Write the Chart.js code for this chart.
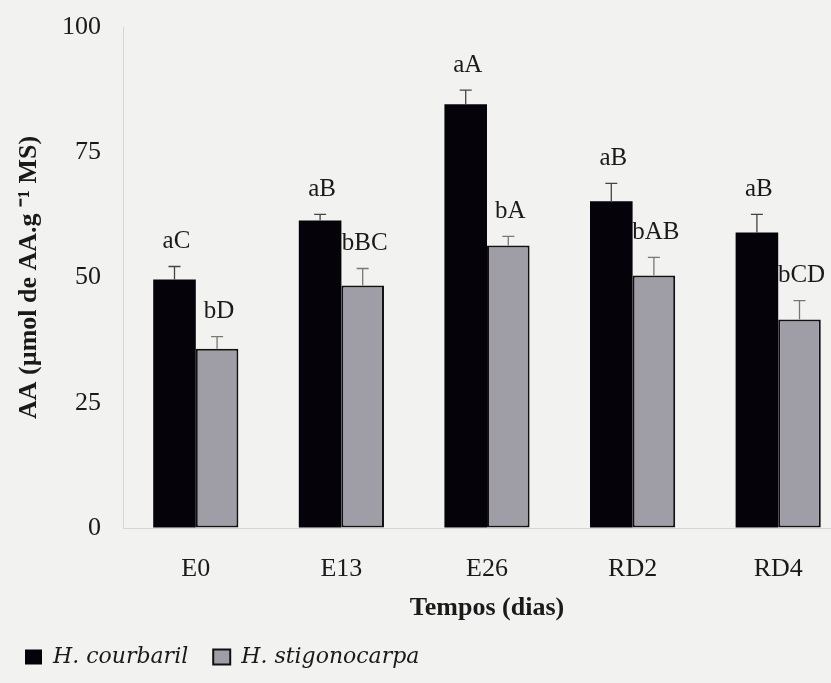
<!DOCTYPE html>
<html>
<head>
<meta charset="utf-8">
<script src="https://cdn.jsdelivr.net/npm/chart.js@4"></script>
<style>
  html, body { margin: 0; padding: 0; overflow: hidden; background: #f2f2f1; }
  #wrap { width: 852px; height: 683px; }
</style>
</head>
<body>
<div id="wrap"><canvas id="chart"></canvas></div>
<script>
// DATA
var tempos = ['E0', 'E13', 'E26', 'RD2', 'RD4']
var courbaril = [49.6, 61.4, 84.6, 65.2, 59.0]
var courbarilErr = [2.6, 1.2, 2.8, 3.6, 3.6]
var courbarilLetters = ['aC', 'aB', 'aA', 'aB', 'aB']
var stigonocarpa = [35.8, 48.4, 56.4, 50.4, 41.6]
var stigonocarpaErr = [2.4, 3.4, 1.8, 3.6, 3.8]
var stigonocarpaLetters = ['bD', 'bBC', 'bA', 'bAB', 'bCD']
var yTicks = [0, 25, 50, 75, 100]

// COLORS
var black = '#050309'
var gray = '#9f9ea6'
var axisGray = '#d6d6d6'
var text = '#1a1a1a'

var serif = "'Liberation Serif', 'Times New Roman', serif"

var errors = [courbarilErr, stigonocarpaErr]
var letters = [courbarilLetters, stigonocarpaLetters]
var errColors = ['#444', '#777']

// error bars + significance letters
var errorBars = {
  id: 'errorBars',
  afterDatasetsDraw: function (chart) {
    var ctx = chart.ctx
    var y = chart.scales.y
    ctx.save()
    chart.data.datasets.forEach(function (ds, di) {
      var meta = chart.getDatasetMeta(di)
      meta.data.forEach(function (bar, i) {
        var top = y.getPixelForValue(ds.data[i] + errors[di][i])
        ctx.strokeStyle = errColors[di]
        ctx.lineWidth = 1.3
        ctx.beginPath()
        ctx.moveTo(bar.x, bar.y)
        ctx.lineTo(bar.x, top)
        ctx.moveTo(bar.x - 6, top)
        ctx.lineTo(bar.x + 6, top)
        ctx.stroke()
        ctx.fillStyle = text
        ctx.font = '25px ' + serif
        ctx.textAlign = 'center'
        ctx.textBaseline = 'middle'
        ctx.fillText(letters[di][i], bar.x + 2, top - 25)
      })
    })
    ctx.restore()
  }
}

new Chart(document.getElementById('chart'), {
  type: 'bar',
  data: {
    labels: tempos,
    datasets: [
      {
        label: 'H. courbaril',
        data: courbaril,
        backgroundColor: black,
        borderColor: black,
        borderWidth: 0,
        categoryPercentage: 0.585,
        barPercentage: 1
      },
      {
        label: 'H. stigonocarpa',
        data: stigonocarpa,
        backgroundColor: gray,
        borderColor: '#111',
        borderWidth: 2,
        borderSkipped: false,
        categoryPercentage: 0.585,
        barPercentage: 1
      }
    ]
  },
  options: {
    responsive: true,
    maintainAspectRatio: false,
    animation: false,
    layout: { padding: { top: 27, right: 1, left: 0, bottom: 5 } },
    plugins: {
      tooltip: { enabled: false },
      legend: {
        position: 'bottom',
        align: 'start',
        labels: {
          color: text,
          boxWidth: 17,
          boxHeight: 15,
          padding: 25,
          font: { family: "'DejaVu Serif', serif", style: 'italic', size: 22 }
        }
      }
    },
    scales: {
      x: {
        grid: { display: false, drawTicks: false },
        border: { color: axisGray },
        afterFit: function (s) { s.height = 93 },
        ticks: { color: text, padding: 26, font: { family: serif, size: 26 } },
        title: {
          display: true,
          text: 'Tempos (dias)',
          color: text,
          padding: { top: 0, bottom: -3 },
          font: { family: serif, size: 26, weight: 'bold' }
        }
      },
      y: {
        min: 0,
        max: 100,
        afterFit: function (s) { s.width = 123 },
        afterBuildTicks: function (s) { s.ticks = yTicks.map(function (v) { return { value: v } }) },
        // invisible tick marks push the labels left without adding top padding
        grid: {
          display: true,
          drawOnChartArea: false,
          drawTicks: true,
          tickLength: 22,
          color: 'rgba(0,0,0,0)',
          tickColor: 'rgba(0,0,0,0)'
        },
        border: { color: axisGray },
        ticks: { color: text, padding: 0, font: { family: serif, size: 26 } },
        title: {
          display: true,
          text: 'AA (µmol de AA.g ⁻¹ MS)',
          color: text,
          padding: { top: 14, bottom: 0 },
          font: { family: serif, size: 26, weight: 'bold' }
        }
      }
    }
  },
  plugins: [errorBars]
})
</script>
</body>
</html>
